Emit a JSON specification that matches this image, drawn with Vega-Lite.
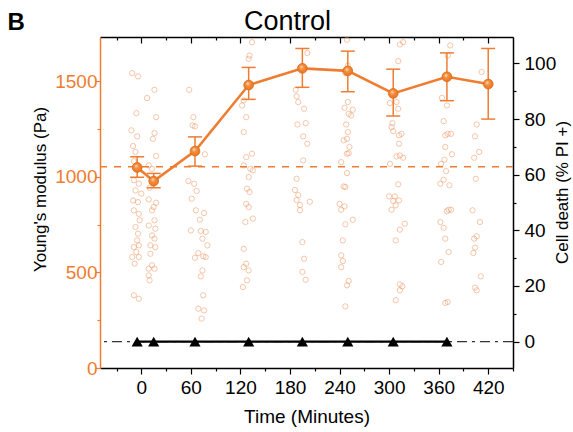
{
  "$schema": "https://vega.github.io/schema/vega-lite/v6.json",
  "width": 413,
  "height": 331,
  "autosize": {"type": "none"},
  "padding": {"left": 100, "top": 37, "right": 60, "bottom": 64},
  "background": "white",
  "config": {
    "view": {"stroke": null},
    "font": "Liberation Sans",
    "axis": {
      "grid": false,
      "labelFont": "Liberation Sans",
      "titleFont": "Liberation Sans",
      "tickColor": "black",
      "domainColor": "black",
      "labelColor": "black",
      "titleColor": "black",
      "titleFontWeight": "normal",
      "domainWidth": 1.5,
      "tickWidth": 1.2,
      "labelOverlap": false,
      "labelFontSize": 19,
      "format": "d"
    }
  },
  "datasets": {
    "scatter": [
      {"time": -11, "modulus": 1541}, {"time": -4, "modulus": 1524}, {"time": 16, "modulus": 1454}, {"time": 7, "modulus": 1411},
      {"time": -6, "modulus": 1332}, {"time": 18, "modulus": 1311}, {"time": -12, "modulus": 1242}, {"time": -5, "modulus": 1211},
      {"time": 16, "modulus": 1228}, {"time": 14, "modulus": 1198}, {"time": -10, "modulus": 1160}, {"time": -7, "modulus": 1129},
      {"time": 18, "modulus": 1108}, {"time": -9, "modulus": 1081}, {"time": 9, "modulus": 1059}, {"time": 13, "modulus": 1041},
      {"time": -9, "modulus": 981}, {"time": -3, "modulus": 963}, {"time": 10, "modulus": 942}, {"time": -7, "modulus": 928},
      {"time": 0, "modulus": 911}, {"time": -10, "modulus": 876}, {"time": -4, "modulus": 867}, {"time": 9, "modulus": 881},
      {"time": 18, "modulus": 864}, {"time": 15, "modulus": 841}, {"time": -9, "modulus": 824}, {"time": -3, "modulus": 806},
      {"time": 13, "modulus": 824}, {"time": -2, "modulus": 772}, {"time": 16, "modulus": 772}, {"time": -7, "modulus": 737},
      {"time": 9, "modulus": 745}, {"time": 17, "modulus": 728}, {"time": -4, "modulus": 702}, {"time": 13, "modulus": 693},
      {"time": 16, "modulus": 676}, {"time": -5, "modulus": 667}, {"time": -9, "modulus": 632}, {"time": -3, "modulus": 641},
      {"time": 11, "modulus": 641}, {"time": 17, "modulus": 632}, {"time": -6, "modulus": 606}, {"time": -11, "modulus": 580},
      {"time": -3, "modulus": 580}, {"time": 11, "modulus": 597}, {"time": -8, "modulus": 545}, {"time": 13, "modulus": 537},
      {"time": 9, "modulus": 519}, {"time": 16, "modulus": 519}, {"time": 9, "modulus": 484}, {"time": 10, "modulus": 458},
      {"time": -9, "modulus": 380}, {"time": -3, "modulus": 362},
      {"time": 58, "modulus": 1454}, {"time": 63, "modulus": 1311}, {"time": 62, "modulus": 1268}, {"time": 65, "modulus": 1263},
      {"time": 77, "modulus": 1117}, {"time": 57, "modulus": 977}, {"time": 64, "modulus": 963}, {"time": 67, "modulus": 925},
      {"time": 61, "modulus": 885}, {"time": 66, "modulus": 824}, {"time": 76, "modulus": 810}, {"time": 71, "modulus": 775},
      {"time": 60, "modulus": 719}, {"time": 72, "modulus": 716}, {"time": 78, "modulus": 711}, {"time": 74, "modulus": 676},
      {"time": 80, "modulus": 641}, {"time": 69, "modulus": 601}, {"time": 65, "modulus": 576}, {"time": 75, "modulus": 584},
      {"time": 78, "modulus": 580}, {"time": 74, "modulus": 510}, {"time": 72, "modulus": 479}, {"time": 75, "modulus": 380},
      {"time": 69, "modulus": 310}, {"time": 76, "modulus": 301}, {"time": 73, "modulus": 258},
      {"time": 134, "modulus": 1703}, {"time": 131, "modulus": 1633}, {"time": 130, "modulus": 1616}, {"time": 124, "modulus": 1399},
      {"time": 122, "modulus": 1372}, {"time": 127, "modulus": 1311}, {"time": 124, "modulus": 1233}, {"time": 134, "modulus": 1120},
      {"time": 127, "modulus": 1102}, {"time": 124, "modulus": 1059}, {"time": 132, "modulus": 1041}, {"time": 135, "modulus": 1033},
      {"time": 130, "modulus": 998}, {"time": 128, "modulus": 937}, {"time": 131, "modulus": 920}, {"time": 127, "modulus": 858},
      {"time": 130, "modulus": 841}, {"time": 135, "modulus": 781}, {"time": 126, "modulus": 763}, {"time": 124, "modulus": 623},
      {"time": 127, "modulus": 545}, {"time": 124, "modulus": 527}, {"time": 130, "modulus": 510}, {"time": 128, "modulus": 458},
      {"time": 123, "modulus": 423},
      {"time": 201, "modulus": 1646}, {"time": 187, "modulus": 1454}, {"time": 188, "modulus": 1420}, {"time": 190, "modulus": 1390},
      {"time": 197, "modulus": 1355}, {"time": 189, "modulus": 1273}, {"time": 199, "modulus": 1280}, {"time": 196, "modulus": 1211},
      {"time": 201, "modulus": 1172}, {"time": 196, "modulus": 1085}, {"time": 188, "modulus": 989}, {"time": 186, "modulus": 930},
      {"time": 190, "modulus": 904}, {"time": 188, "modulus": 878}, {"time": 192, "modulus": 852}, {"time": 192, "modulus": 825},
      {"time": 204, "modulus": 869}, {"time": 195, "modulus": 658}, {"time": 197, "modulus": 571}, {"time": 195, "modulus": 502},
      {"time": 199, "modulus": 461},
      {"time": 249, "modulus": 1715}, {"time": 250, "modulus": 1581}, {"time": 247, "modulus": 1541}, {"time": 250, "modulus": 1390},
      {"time": 246, "modulus": 1360}, {"time": 256, "modulus": 1350}, {"time": 254, "modulus": 1320}, {"time": 251, "modulus": 1329},
      {"time": 248, "modulus": 1273}, {"time": 250, "modulus": 1233}, {"time": 245, "modulus": 1190}, {"time": 249, "modulus": 1198},
      {"time": 252, "modulus": 1155}, {"time": 249, "modulus": 1120}, {"time": 251, "modulus": 1123}, {"time": 242, "modulus": 1076},
      {"time": 249, "modulus": 1019}, {"time": 245, "modulus": 949}, {"time": 247, "modulus": 946}, {"time": 240, "modulus": 858},
      {"time": 246, "modulus": 845}, {"time": 242, "modulus": 827}, {"time": 256, "modulus": 775}, {"time": 247, "modulus": 751},
      {"time": 244, "modulus": 667}, {"time": 242, "modulus": 589}, {"time": 244, "modulus": 559}, {"time": 242, "modulus": 527},
      {"time": 251, "modulus": 455}, {"time": 249, "modulus": 432}, {"time": 247, "modulus": 322},
      {"time": 317, "modulus": 1703}, {"time": 313, "modulus": 1691}, {"time": 311, "modulus": 1604}, {"time": 301, "modulus": 1385},
      {"time": 309, "modulus": 1390}, {"time": 311, "modulus": 1355}, {"time": 304, "modulus": 1280}, {"time": 303, "modulus": 1259},
      {"time": 305, "modulus": 1238}, {"time": 315, "modulus": 1224}, {"time": 312, "modulus": 1216}, {"time": 312, "modulus": 1172},
      {"time": 309, "modulus": 1106}, {"time": 317, "modulus": 1099}, {"time": 313, "modulus": 1111}, {"time": 301, "modulus": 1067},
      {"time": 311, "modulus": 960}, {"time": 300, "modulus": 897}, {"time": 307, "modulus": 897}, {"time": 312, "modulus": 876},
      {"time": 305, "modulus": 873}, {"time": 308, "modulus": 850}, {"time": 303, "modulus": 827}, {"time": 319, "modulus": 754},
      {"time": 313, "modulus": 723}, {"time": 308, "modulus": 667}, {"time": 313, "modulus": 437}, {"time": 316, "modulus": 427},
      {"time": 313, "modulus": 406}, {"time": 308, "modulus": 354},
      {"time": 374, "modulus": 1686}, {"time": 371, "modulus": 1633}, {"time": 364, "modulus": 1412}, {"time": 370, "modulus": 1372},
      {"time": 366, "modulus": 1290}, {"time": 368, "modulus": 1216}, {"time": 371, "modulus": 1224}, {"time": 375, "modulus": 1224},
      {"time": 368, "modulus": 1155}, {"time": 376, "modulus": 1117}, {"time": 367, "modulus": 1089}, {"time": 363, "modulus": 1067},
      {"time": 369, "modulus": 1029}, {"time": 362, "modulus": 963}, {"time": 366, "modulus": 984}, {"time": 373, "modulus": 955},
      {"time": 372, "modulus": 827}, {"time": 375, "modulus": 827}, {"time": 370, "modulus": 819}, {"time": 362, "modulus": 763},
      {"time": 366, "modulus": 733}, {"time": 368, "modulus": 676}, {"time": 372, "modulus": 606}, {"time": 363, "modulus": 554},
      {"time": 371, "modulus": 345}, {"time": 368, "modulus": 340},
      {"time": 412, "modulus": 1547}, {"time": 406, "modulus": 1273}, {"time": 404, "modulus": 1211}, {"time": 409, "modulus": 1129},
      {"time": 403, "modulus": 1099}, {"time": 405, "modulus": 989}, {"time": 401, "modulus": 824}, {"time": 410, "modulus": 763},
      {"time": 406, "modulus": 688}, {"time": 403, "modulus": 676}, {"time": 404, "modulus": 629}, {"time": 402, "modulus": 601},
      {"time": 411, "modulus": 479}, {"time": 404, "modulus": 420}, {"time": 406, "modulus": 406}
    ],
    "means": [
      {"time": -5, "mean": 1048, "lo": 997, "hi": 1104},
      {"time": 15, "mean": 977, "lo": 942, "hi": 1017},
      {"time": 65, "mean": 1134, "lo": 1055, "hi": 1208},
      {"time": 130, "mean": 1479, "lo": 1404, "hi": 1571},
      {"time": 195, "mean": 1566, "lo": 1467, "hi": 1670},
      {"time": 250, "mean": 1553, "lo": 1444, "hi": 1656},
      {"time": 305, "mean": 1435, "lo": 1317, "hi": 1562},
      {"time": 370, "mean": 1522, "lo": 1397, "hi": 1647},
      {"time": 420, "mean": 1484, "lo": 1301, "hi": 1670}
    ],
    "ref": [{"modulus": 1052}],
    "death": [
      {"time": -5, "death": 0}, {"time": 15, "death": 0}, {"time": 65, "death": 0}, {"time": 130, "death": 0},
      {"time": 195, "death": 0}, {"time": 250, "death": 0}, {"time": 305, "death": 0}, {"time": 370, "death": 0}
    ],
    "zero": [{"death": 0}]
  },
  "layer": [
    {
      "layer": [
        {
          "data": {"name": "scatter"},
          "mark": {"type": "point", "shape": "circle", "filled": false, "size": 28, "color": "#EC8A50", "strokeWidth": 0.8, "opacity": 0.6},
          "encoding": {
            "x": {"field": "time", "type": "quantitative", "scale": {"domain": [-50, 450], "nice": false, "zero": false},
              "axis": {"orient": "bottom", "values": [0, 60, 120, 180, 240, 300, 360, 420], "tickSize": 6, "labelPadding": 4, "title": "Time (Minutes)", "titleFontSize": 19, "titlePadding": 10}},
            "y": {"field": "modulus", "type": "quantitative", "scale": {"domain": [0, 1730], "nice": false, "zero": false},
              "axis": {"orient": "left", "values": [0, 500, 1000, 1500], "tickSize": 5, "labelPadding": -2, "tickColor": "#EE7D31", "domainColor": "#EE7D31", "labelColor": "#EE7D31",
                "title": "Young's modulus (Pa)", "titleFontSize": 17, "titleX": -60, "titleY": 152, "titleAngle": 270, "titleBaseline": "middle", "titleAlign": "center"}}
          }
        },
        {
          "data": {"name": "ref"},
          "mark": {"type": "rule", "color": "#EE7D31", "strokeWidth": 1.5, "strokeDash": [7, 7]},
          "encoding": {
            "y": {"field": "modulus", "type": "quantitative", "scale": {"domain": [0, 1730], "nice": false, "zero": false},
              "axis": {"orient": "left", "values": [250, 750, 1250], "tickSize": 3, "labels": false, "domain": false, "title": null, "tickColor": "#EE7D31"}}
          }
        },
        {
          "data": {"name": "means"},
          "mark": {"type": "rule", "color": "#EE7D31", "strokeWidth": 1.5},
          "encoding": {
            "x": {"field": "time", "type": "quantitative", "scale": {"domain": [-50, 450], "nice": false, "zero": false},
              "axis": {"orient": "bottom", "values": [-30, 30, 90, 150, 210, 270, 330, 390, 450], "tickSize": 3, "labels": false, "domain": false, "title": null}},
            "y": {"field": "lo", "type": "quantitative", "scale": {"domain": [0, 1730], "nice": false, "zero": false}, "axis": null},
            "y2": {"field": "hi"}
          }
        },
        {
          "data": {"name": "means"},
          "mark": {"type": "tick", "orient": "horizontal", "size": 14, "thickness": 1.5, "color": "#EE7D31", "opacity": 1},
          "encoding": {
            "x": {"field": "time", "type": "quantitative", "scale": {"domain": [-50, 450], "nice": false, "zero": false},
              "axis": {"orient": "top", "values": [0, 60, 120, 180, 240, 300, 360, 420], "tickSize": -6, "labels": false, "title": "Control",
                "titleFontSize": 27, "titleX": 187, "titleY": -8, "titleAlign": "center", "titleBaseline": "alphabetic", "titleAngle": 0}},
            "y": {"field": "lo", "type": "quantitative", "scale": {"domain": [0, 1730], "nice": false, "zero": false}, "axis": null}
          }
        },
        {
          "data": {"name": "means"},
          "mark": {"type": "tick", "orient": "horizontal", "size": 14, "thickness": 1.5, "color": "#EE7D31", "opacity": 1},
          "encoding": {
            "x": {"field": "time", "type": "quantitative", "scale": {"domain": [-50, 450], "nice": false, "zero": false},
              "axis": {"orient": "top", "values": [-30, 30, 90, 150, 210, 270, 330, 390], "tickSize": -3, "labels": false, "domain": false, "title": "B",
                "titleFontSize": 24, "titleFontWeight": "bold", "titleX": -93, "titleY": -8, "titleAlign": "left", "titleBaseline": "alphabetic", "titleAngle": 0}},
            "y": {"field": "hi", "type": "quantitative", "scale": {"domain": [0, 1730], "nice": false, "zero": false}, "axis": null}
          }
        },
        {
          "data": {"name": "means"},
          "mark": {"type": "line", "color": "#EE7D31", "strokeWidth": 2.6},
          "encoding": {
            "x": {"field": "time", "type": "quantitative", "scale": {"domain": [-50, 450], "nice": false, "zero": false}, "axis": null},
            "y": {"field": "mean", "type": "quantitative", "scale": {"domain": [0, 1730], "nice": false, "zero": false}, "axis": null}
          }
        },
        {
          "data": {"name": "means"},
          "mark": {"type": "point", "shape": "circle", "filled": true, "size": 95, "opacity": 1, "strokeWidth": 0.8, "stroke": "#DD6A1C",
            "fill": {"gradient": "radial", "x1": 0.38, "y1": 0.32, "r1": 0, "x2": 0.5, "y2": 0.5, "r2": 0.6,
              "stops": [{"offset": 0, "color": "#FFE6CC"}, {"offset": 0.35, "color": "#F4913F"}, {"offset": 1, "color": "#E56E1E"}]}},
          "encoding": {
            "x": {"field": "time", "type": "quantitative", "scale": {"domain": [-50, 450], "nice": false, "zero": false}, "axis": null},
            "y": {"field": "mean", "type": "quantitative", "scale": {"domain": [0, 1730], "nice": false, "zero": false}, "axis": null}
          }
        }
      ],
      "resolve": {"axis": {"x": "independent", "y": "independent"}}
    },
    {
      "layer": [
        {
          "data": {"name": "zero"},
          "mark": {"type": "rule", "color": "#333333", "strokeWidth": 1.3, "strokeDash": [10, 5, 3, 5]},
          "encoding": {
            "y": {"field": "death", "type": "quantitative", "scale": {"domain": [-9.5, 109.5], "nice": false, "zero": false},
              "axis": {"orient": "right", "values": [10, 30, 50, 70, 90], "tickSize": 3, "labels": false, "domain": false, "title": null}}
          }
        },
        {
          "data": {"name": "death"},
          "mark": {"type": "line", "color": "black", "strokeWidth": 2.4},
          "encoding": {
            "x": {"field": "time", "type": "quantitative", "scale": {"domain": [-50, 450], "nice": false, "zero": false}, "axis": null},
            "y": {"field": "death", "type": "quantitative", "scale": {"domain": [-9.5, 109.5], "nice": false, "zero": false},
              "axis": {"orient": "right", "values": [0, 20, 40, 60, 80, 100], "tickSize": 6, "labelPadding": 5,
                "title": "Cell death (% PI +)", "titleFontSize": 17, "titleX": 49, "titleY": 155, "titleAngle": 270, "titleBaseline": "middle", "titleAlign": "center"}}
          }
        },
        {
          "data": {"name": "death"},
          "mark": {"type": "point", "shape": "triangle-up", "filled": true, "size": 125, "color": "black", "opacity": 1},
          "encoding": {
            "x": {"field": "time", "type": "quantitative", "scale": {"domain": [-50, 450], "nice": false, "zero": false}, "axis": null},
            "y": {"field": "death", "type": "quantitative", "scale": {"domain": [-9.5, 109.5], "nice": false, "zero": false}, "axis": null}
          }
        }
      ],
      "resolve": {"axis": {"y": "independent"}}
    }
  ],
  "resolve": {"scale": {"y": "independent"}, "axis": {"x": "independent", "y": "independent"}}
}
